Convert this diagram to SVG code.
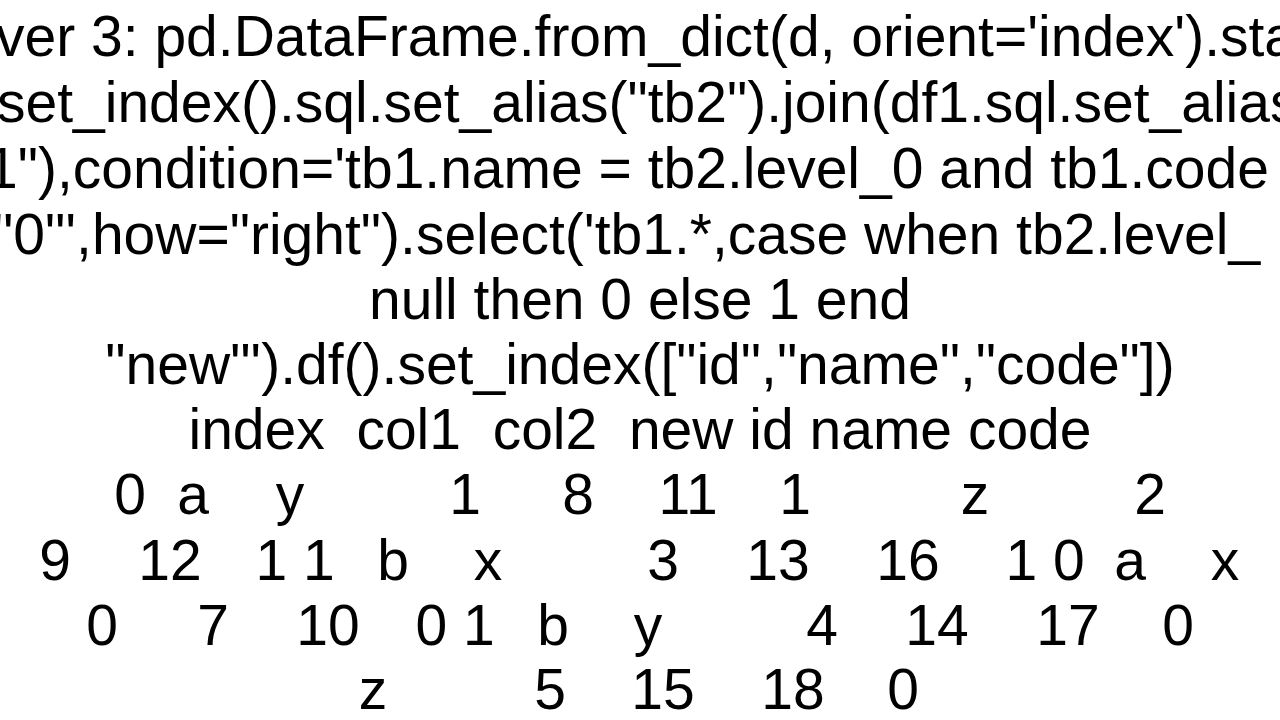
<svg xmlns="http://www.w3.org/2000/svg" width="1280" height="720" viewBox="0 0 1280 720">
<style>
text{font-family:"Liberation Sans",Arial,sans-serif;font-size:57px;fill:#000}
.c{text-anchor:middle}
</style>
<rect width="1280" height="720" fill="#fff"/>
<g transform="translate(0,4)">
<text x="-4" y="52">ver 3: pd.DataFrame.from_dict(d, orient='index').sta</text>
<text x="-3" y="118">set_index().sql.set_alias("tb2").join(df1.sql.set_alias</text>
<text x="-14" y="184">1"),condition='tb1.name = tb2.level_0 and tb1.code</text>
<text x="-7" y="250">"0"',how="right").select('tb1.*,case when tb2.level_</text>
<text class="c" x="640" y="315">null then 0 else 1 end</text>
<text class="c" x="640" y="380">"new"').df().set_index(["id","name","code"])</text>
<text class="c" x="640" y="445" xml:space="preserve">index  col1  col2  new id name code</text>
<text class="c" x="130" y="510">0</text><text class="c" x="193" y="510">a</text><text class="c" x="290" y="510">y</text><text class="c" x="465" y="510">1</text><text class="c" x="578" y="510">8</text><text class="c" x="688" y="510">11</text><text class="c" x="795" y="510">1</text><text class="c" x="975" y="510">z</text><text class="c" x="1150" y="510">2</text>
<text class="c" x="55" y="576">9</text><text class="c" x="170" y="576">12</text><text class="c" x="295" y="576">1 1</text><text class="c" x="393" y="576">b</text><text class="c" x="488" y="576">x</text><text class="c" x="663" y="576">3</text><text class="c" x="778" y="576">13</text><text class="c" x="908" y="576">16</text><text class="c" x="1045" y="576">1 0</text><text class="c" x="1130" y="576">a</text><text class="c" x="1225" y="576">x</text>
<text class="c" x="102" y="641">0</text><text class="c" x="213" y="641">7</text><text class="c" x="328" y="641">10</text><text class="c" x="455" y="641">0 1</text><text class="c" x="553" y="641">b</text><text class="c" x="648" y="641">y</text><text class="c" x="822" y="641">4</text><text class="c" x="937" y="641">14</text><text class="c" x="1068" y="641">17</text><text class="c" x="1178" y="641">0</text>
<text class="c" x="373" y="705">z</text><text class="c" x="550" y="705">5</text><text class="c" x="663" y="705">15</text><text class="c" x="793" y="705">18</text><text class="c" x="903" y="705">0</text>
</g>
</svg>
